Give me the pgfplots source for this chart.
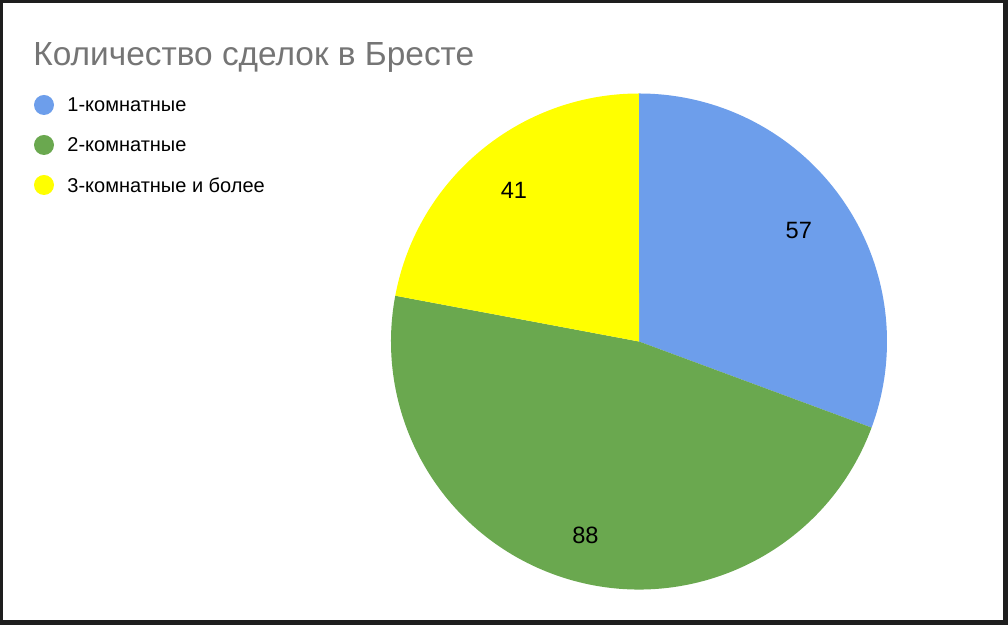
\documentclass[border=0pt]{standalone}
\usepackage{pgfplots}
\usepackage{pgfplotstable}
\pgfplotsset{compat=1.18}
\usepackage{fontspec}
\setmainfont{Liberation Sans}

\definecolor{pieblue}{HTML}{6D9EEB}
\definecolor{piegreen}{HTML}{6AA84F}
\definecolor{pieyellow}{HTML}{FFFF00}
\definecolor{titlegray}{HTML}{757575}
\definecolor{frame}{HTML}{1E1E1E}

% number of deals per flat type
\pgfplotstableread{
value
57
88
41
}\piedata

\begin{document}
\begin{tikzpicture}
\pgfplotstablegetelem{0}{value}\of\piedata \let\va\pgfplotsretval
\pgfplotstablegetelem{1}{value}\of\piedata \let\vb\pgfplotsretval
\pgfplotstablegetelem{2}{value}\of\piedata \let\vc\pgfplotsretval
\pgfmathsetmacro\total{\va+\vb+\vc}
\pgfmathsetmacro\aA{90}
\pgfmathsetmacro\aB{\aA-360*(\va/\total)}
\pgfmathsetmacro\aC{\aB-360*(\vb/\total)}
\pgfmathsetmacro\aD{\aC-360*(\vc/\total)}
% pie centre and radius in axis units (1 unit = 0.5pt)
\def\cx{639}\def\cy{283.5}\def\rr{248}
\pgfmathsetmacro\lAx{\cx+0.785*\rr*cos((\aA+\aB)/2)}
\pgfmathsetmacro\lAy{\cy+0.785*\rr*sin((\aA+\aB)/2)}
\pgfmathsetmacro\lBx{\cx+0.81*\rr*cos((\aB+\aC)/2)}
\pgfmathsetmacro\lBy{\cy+0.81*\rr*sin((\aB+\aC)/2)}
\pgfmathsetmacro\lCx{\cx+0.79*\rr*cos((\aC+\aD)/2)}
\pgfmathsetmacro\lCy{\cy+0.79*\rr*sin((\aC+\aD)/2)}
\begin{axis}[
	x=0.5pt, y=0.5pt,
	xmin=0, xmax=1008, ymin=0, ymax=625,
	hide axis, clip=false,
]
% frame
\fill[frame] (axis cs:0,0) rectangle (axis cs:1008,625);
\fill[white] (axis cs:3,5) rectangle (axis cs:1003,622);

% title
\node[anchor=base west, text=titlegray, font=\fontsize{16.7}{20}\selectfont, inner sep=0pt]
	at (axis cs:33,559) {Количество сделок в Бресте};

% legend
\fill[pieblue] (axis cs:44,520) circle[radius=5pt];
\fill[piegreen] (axis cs:44,480) circle[radius=5pt];
\fill[pieyellow] (axis cs:44,440) circle[radius=5pt];
\begin{scope}[every node/.style={anchor=west, inner sep=0pt, font=\fontsize{10}{12}\selectfont}]
\node at (axis cs:67,520) {1-комнатные};
\node at (axis cs:67,480) {2-комнатные};
\node at (axis cs:67,440) {3-комнатные и более};
\end{scope}

% slices
\fill[pieblue] (axis cs:\cx,\cy) -- ++(\aA:124pt) arc[start angle=\aA, end angle=\aB, radius=124pt] -- cycle;
\fill[piegreen] (axis cs:\cx,\cy) -- ++(\aB:124pt) arc[start angle=\aB, end angle=\aC, radius=124pt] -- cycle;
\fill[pieyellow] (axis cs:\cx,\cy) -- ++(\aC:124pt) arc[start angle=\aC, end angle=\aD, radius=124pt] -- cycle;

% slice labels
\begin{scope}[every node/.style={inner sep=0pt, font=\fontsize{11.8}{14}\selectfont}]
\node at (axis cs:\lAx,\lAy) {\va};
\node at (axis cs:\lBx,\lBy) {\vb};
\node at (axis cs:\lCx,\lCy) {\vc};
\end{scope}
\end{axis}
\end{tikzpicture}
\end{document}
